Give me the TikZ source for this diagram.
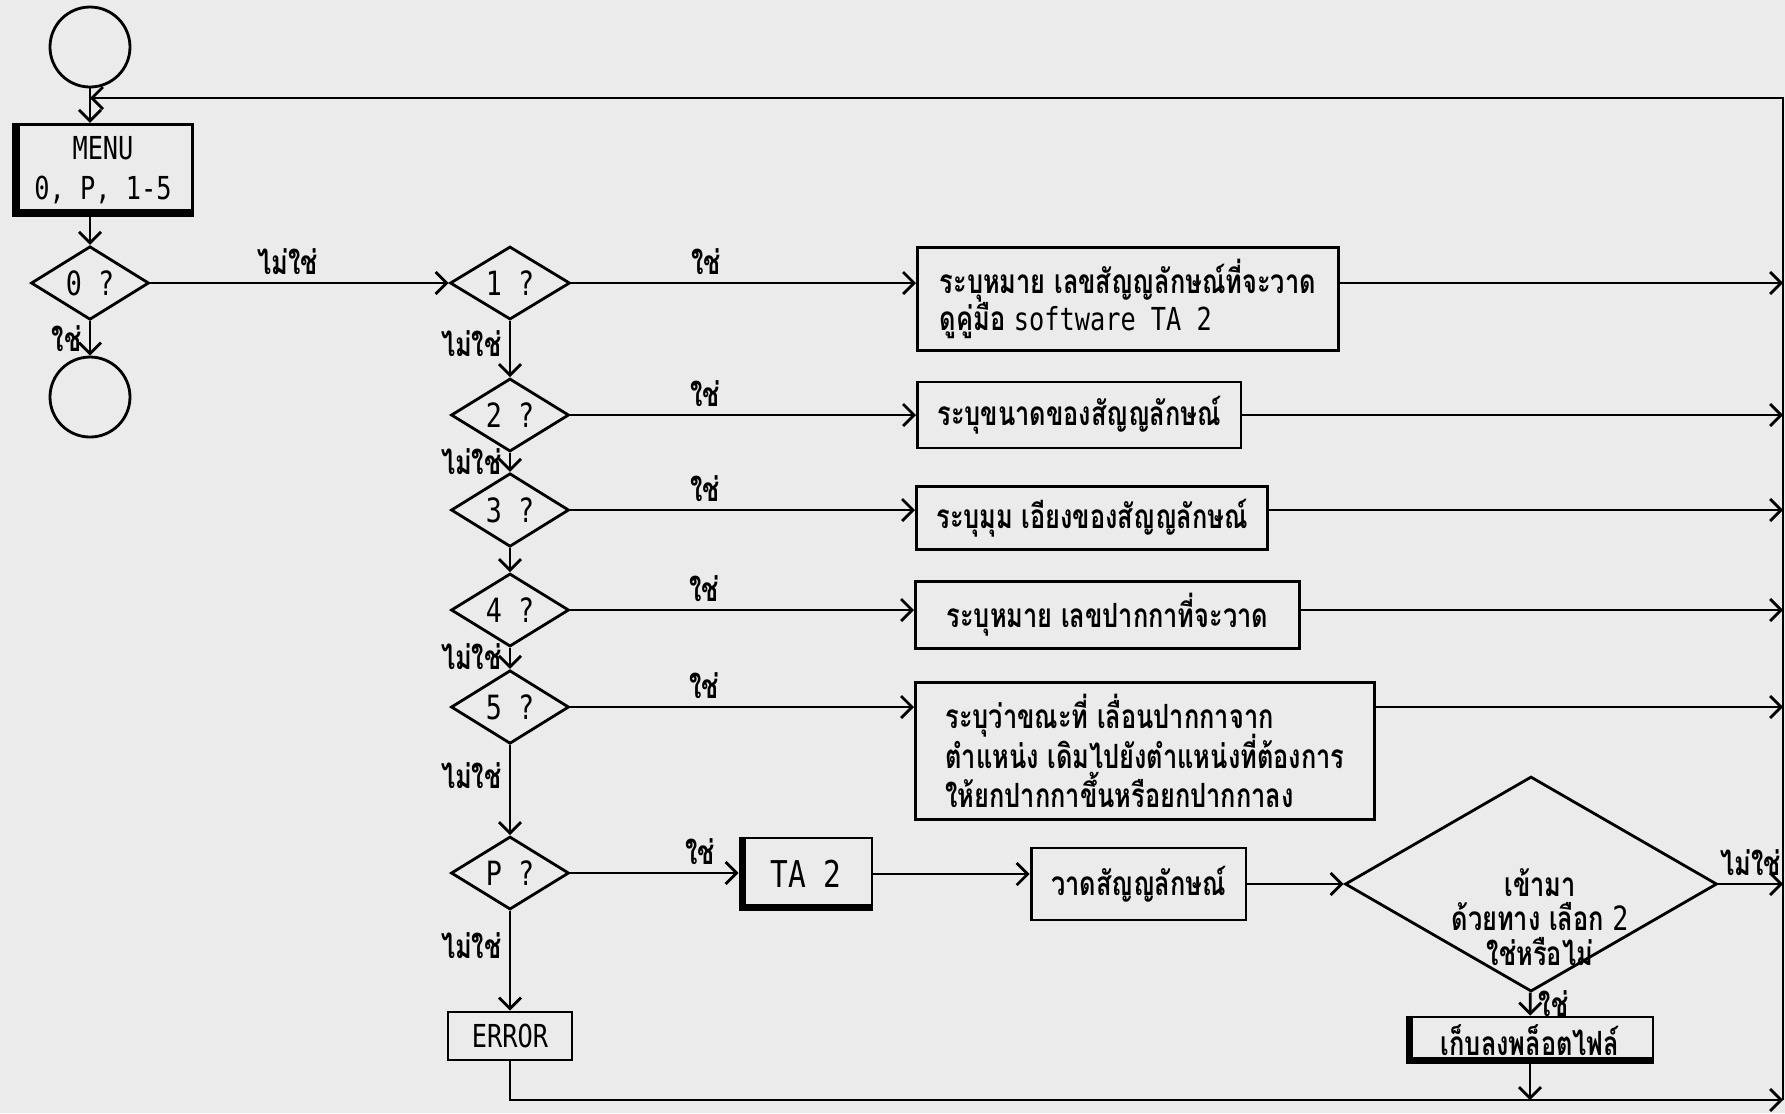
\documentclass[tikz,border=0pt]{standalone}
\usepackage{fontspec}
\usepackage{tikz}
\usetikzlibrary{positioning, arrows.meta, shapes.geometric, calc}
\newfontfamily\thaifont[Script=Thai, FakeStretch=0.76]{Loma}
\newfontfamily\plotfont[FakeStretch=0.8]{DejaVu Sans Mono}
\newcommand\tightlines{\lineskiplimit=-20pt\relax}

\begin{document}
\begin{tikzpicture}[
    line width=0.8pt,
    flow/.style={-{Straight Barb[length=1.1mm, width=2.2mm]}},
    terminal/.style={draw, circle, minimum size=0.8cm, inner sep=0pt},
    decision/.style={draw, diamond, inner sep=0pt, minimum width=1.18cm, minimum height=0.63cm, font=\plotfont\fontsize{9.5}{10}\selectfont},
    procbox/.style={draw, inner xsep=0.2cm, align=left, font=\thaifont\bfseries\fontsize{9.5}{11.2}\selectfont\tightlines},
    plotbox/.style={draw, align=center, font=\plotfont\fontsize{9}{11.5}\selectfont},
    ans/.style={font=\thaifont\bfseries\fontsize{9.5}{9.8}\selectfont\tightlines, inner sep=2pt},
    heavyline/.style={line width=2.2pt},
]

% Paper
\fill[black!8, use as bounding box] (0,0) rectangle (17.85,-11.13);

% Start, menu, exit
\node[terminal] (start) at (0.90,-0.47) {};
\node[plotbox, minimum width=1.79cm, minimum height=0.87cm] (menu) at (1.03,-1.70) {MENU\\0, P, 1-5};
\node[decision] (d0) at (0.90,-2.83) {0 ?};
\node[terminal] (stop) at (0.90,-3.97) {};

% Choices
\node[decision, minimum width=1.20cm, minimum height=0.65cm] (d1) at (5.10,-2.83) {1 ?};
\node[decision] (d2) at (5.10,-4.15) {2 ?};
\node[decision] (d3) at (5.10,-5.10) {3 ?};
\node[decision] (d4) at (5.10,-6.10) {4 ?};
\node[decision] (d5) at (5.10,-7.07) {5 ?};
\node[decision] (dp) at (5.10,-8.73) {P ?};
\node[plotbox, minimum width=1.24cm, minimum height=0.48cm] (err) at (5.10,-10.36) {ERROR};

% Settings
\node[procbox, minimum width=4.21cm, minimum height=0.88cm, anchor=west] (b1) at (9.16,-2.99) {ระบุหมาย เลขสัญญลักษณ์ที่จะวาด\\[-0.5pt]ดูคู่มือ {\plotfont\mdseries\fontsize{9}{12}\selectfont software TA 2}};
\node[procbox, minimum width=3.20cm, minimum height=0.66cm, anchor=west] (b2) at (9.16,-4.15) {ระบุขนาดของสัญญลักษณ์};
\node[procbox, minimum width=3.48cm, minimum height=0.63cm, anchor=west] (b3) at (9.15,-5.18) {ระบุมุม เอียงของสัญญลักษณ์};
\node[procbox, minimum width=3.84cm, minimum height=0.56cm, anchor=west] (b4) at (9.14,-6.15) {ระบุหมาย เลขปากกาที่จะวาด};
\node[procbox, minimum width=4.59cm, minimum height=1.31cm, anchor=west] (b5) at (9.14,-7.51) {ระบุว่าขณะที่ เลื่อนปากกาจาก\\ตำแหน่ง เดิมไปยังตำแหน่งที่ต้องการ\\ให้ยกปากกาขึ้นหรือยกปากกาลง};

% Plot branch
\node[plotbox, font=\plotfont\fontsize{10.5}{11}\selectfont, minimum width=1.32cm, minimum height=0.72cm] (ta2) at (8.06,-8.74) {TA 2};
\node[procbox, minimum width=1.83cm, minimum height=0.72cm] (drw) at (11.385,-8.84) {วาดสัญญลักษณ์};
\node[draw, diamond, minimum width=3.72cm, minimum height=2.15cm, inner sep=0pt] (q2) at (15.31,-8.84) {};
\node[ans, align=center] (q2txt) at ([xshift=0.09cm, yshift=-0.33cm]q2.center) {เข้ามา\\ด้วยทาง เลือก {\plotfont\mdseries 2}\\ใช่หรือไม่};
\node[procbox, minimum width=2.46cm, minimum height=0.46cm, inner ysep=0pt] (store) at (15.30,-10.40) {เก็บลงพล็อตไฟล์};

% Shadowed edges
\foreach \n in {menu,ta2,store} {
    \draw[heavyline] ([xshift=1.1pt]\n.north west) |- ([yshift=1.1pt]\n.south east);
}

% Return rail
\coordinate (rtop) at (17.83,-0.98);
\coordinate (rbot) at (17.83,-11.00);
\draw[flow] (rbot) -- (rtop) -- (rtop -| start);

% Main flow
\draw[flow] (start) -- (start |- menu.north);
\draw[flow] (start |- menu.south) -- (d0);
\draw[flow] (d0) -- node[ans, above, pos=0.46] {ไม่ใช่} (d1);
\draw[flow] (d0) -- node[ans, left] {ใช่} (stop);

% No chain
\draw[flow] (d1) -- node[ans, left, pos=0.4] {ไม่ใช่} (d2);
\draw[flow] (d2) -- node[ans, left, pos=0.45] {ไม่ใช่} (d3);
\draw[flow] (d3) -- (d4);
\draw[flow] (d4) -- node[ans, left, pos=0.4] {ไม่ใช่} (d5);
\draw[flow] (d5) -- node[ans, left, pos=0.34] {ไม่ใช่} (dp);
\draw[flow] (dp) -- node[ans, left, pos=0.35] {ไม่ใช่} (err);

% Yes branches
\foreach \i in {1,...,5} {
    \draw[flow] (d\i) -- node[ans, above, pos=0.39] {ใช่} (d\i -| b\i.west);
    \draw[flow] (d\i -| b\i.east) -- (d\i -| rtop);
}

% Plot path
\draw[flow] (dp.east) -- node[ans, above, pos=0.77] {ใช่} (dp.east -| ta2.west);
\draw[flow] (ta2.east) -- (ta2.east -| drw.west);
\draw[flow] (drw) -- (q2);
\draw[flow] (q2.east) -- node[ans, above] {ไม่ใช่} (q2.east -| rtop);
\draw[flow] (q2) -- node[ans, right] {ใช่} (store);
\draw[flow] (store) -- (store |- rbot);
\draw[flow] (err) -- (err |- rbot) -- (rbot);

\end{tikzpicture}
\end{document}
